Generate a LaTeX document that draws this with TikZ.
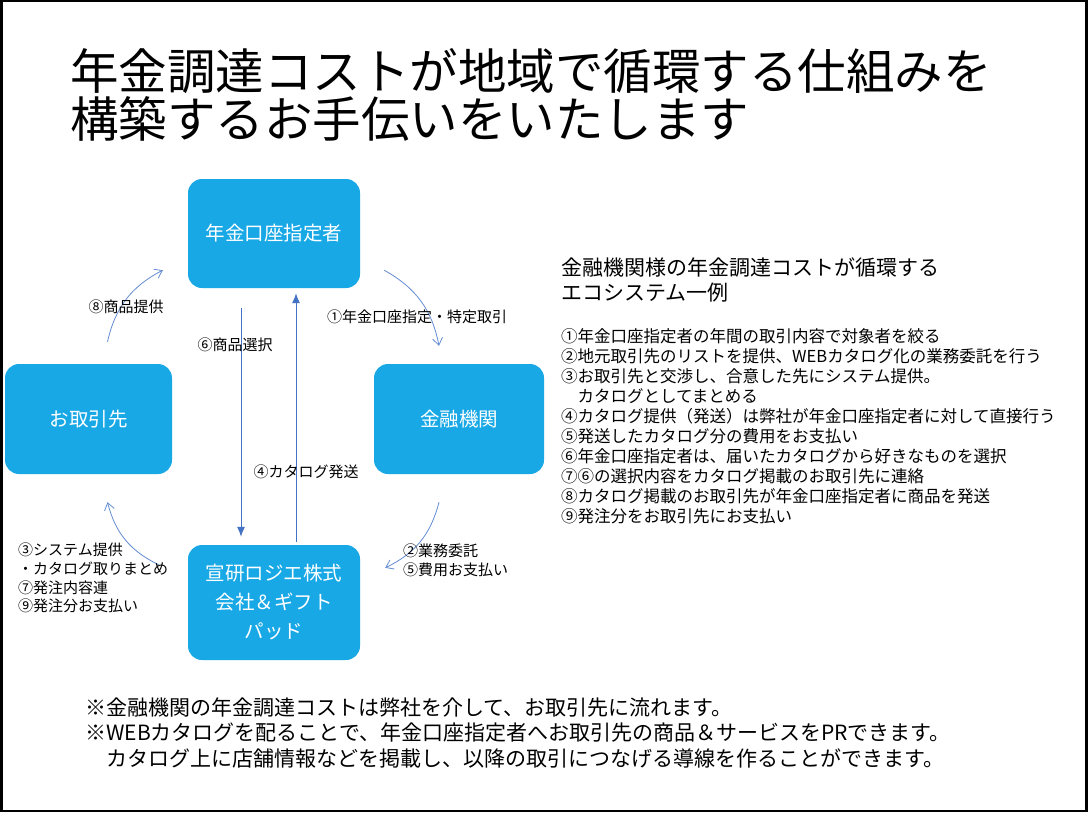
\documentclass[tikz,border=0pt]{standalone}
\usepackage{fontspec}
\setmainfont{Noto Sans CJK JP}
\usetikzlibrary{arrows.meta}
\definecolor{boxblue}{RGB}{24,168,230}
\definecolor{arrowblue}{RGB}{68,114,196}
\definecolor{curveblue}{RGB}{100,140,210}
\begin{document}
\begin{tikzpicture}[x=1pt,y=1pt,
  box/.style={fill=boxblue, rounded corners=14pt, text=white, inner sep=0pt, align=center, font=\fontsize{19.5}{29}\selectfont},
  lbl/.style={inner sep=0pt, font=\fontsize{15}{18.7}\selectfont, align=left},
  txt/.style={inner sep=0pt, anchor=west, align=left},
  straight/.style={draw=arrowblue, line width=1pt, -{Latex[length=10pt,width=8pt]}},
  curved/.style={draw=curveblue, line width=0.8pt, -{Straight Barb[length=7pt,width=10pt]}, bend left=25}
]
\fill (0,0) rectangle (1088,-812);
\fill[white] (3,-2) rectangle (1085,-810);
\useasboundingbox (0,0) rectangle (1088,-812);

\node[txt, font=\fontsize{48.5}{48}\selectfont] (title) at (70,-95) {年金調達コストが地域で循環する仕組みを\\構築するお手伝いをいたします};

\node[box, minimum width=172pt, minimum height=109pt] (nenkin) at (274,-233.5) {年金口座指定者};
\node[box, minimum width=167pt, minimum height=110pt] (torihiki) at (88.5,-419) {お取引先};
\node[box, minimum width=170pt, minimum height=110pt] (kinyu) at (459,-419) {金融機関};
\node[box, minimum width=172pt, minimum height=115pt] (senken) at (274,-602.5) {宣研ロジエ株式\\会社＆ギフト\\パッド};

\draw[straight] ([xshift=-33pt,yshift=-20pt]nenkin.south) -- ([xshift=-33pt,yshift=8pt]senken.north);
\draw[straight] ([xshift=22pt,yshift=3pt]senken.north) -- ([xshift=22pt,yshift=-5pt]nenkin.south);

\draw[curved] ([xshift=24pt,yshift=18pt]nenkin.south east) to ([xshift=-20pt,yshift=18pt]kinyu.north);
\draw[curved] ([xshift=-20pt,yshift=-28pt]kinyu.south) to ([xshift=25pt,yshift=-23pt]senken.north east);
\draw[curved] ([xshift=-29pt,yshift=-20pt]senken.north west) to ([xshift=19pt,yshift=-28pt]torihiki.south);
\draw[curved] ([xshift=19pt,yshift=22pt]torihiki.north) to ([xshift=-25pt,yshift=18pt]nenkin.south west);

\node[lbl] (l8) at (126,-307) {⑧商品提供};
\node[lbl] (l6) at (235,-345) {⑥商品選択};
\node[lbl] (l1) at (417,-317) {①年金口座指定・特定取引};
\node[lbl] (l4) at (306,-472) {④カタログ発送};
\node[lbl, anchor=west] (l25) at (403,-560) {②業務委託\\⑤費用お支払い};
\node[lbl, anchor=west] (l3) at (18,-578) {③システム提供\\・カタログ取りまとめ\\⑦発注内容連\\⑨発注分お支払い};

\node[txt, font=\fontsize{21}{25}\selectfont] (head) at (561,-280) {金融機関様の年金調達コストが循環する\\エコシステム一例};
\node[txt, font=\fontsize{16.5}{20}\selectfont] (list) at (561,-426.5) {①年金口座指定者の年間の取引内容で対象者を絞る\\②地元取引先のリストを提供、WEBカタログ化の業務委託を行う\\③お取引先と交渉し、合意した先にシステム提供。\\　カタログとしてまとめる\\④カタログ提供（発送）は弊社が年金口座指定者に対して直接行う\\⑤発送したカタログ分の費用をお支払い\\⑥年金口座指定者は、届いたカタログから好きなものを選択\\⑦⑥の選択内容をカタログ掲載のお取引先に連絡\\⑧カタログ掲載のお取引先が年金口座指定者に商品を発送\\⑨発注分をお取引先にお支払い};

\node[txt, font=\fontsize{21}{25.5}\selectfont] (notes) at (85,-732.5) {※金融機関の年金調達コストは弊社を介して、お取引先に流れます。\\※WEBカタログを配ることで、年金口座指定者へお取引先の商品＆サービスをPRできます。\\　カタログ上に店舗情報などを掲載し、以降の取引につなげる導線を作ることができます。};
\end{tikzpicture}
\end{document}
